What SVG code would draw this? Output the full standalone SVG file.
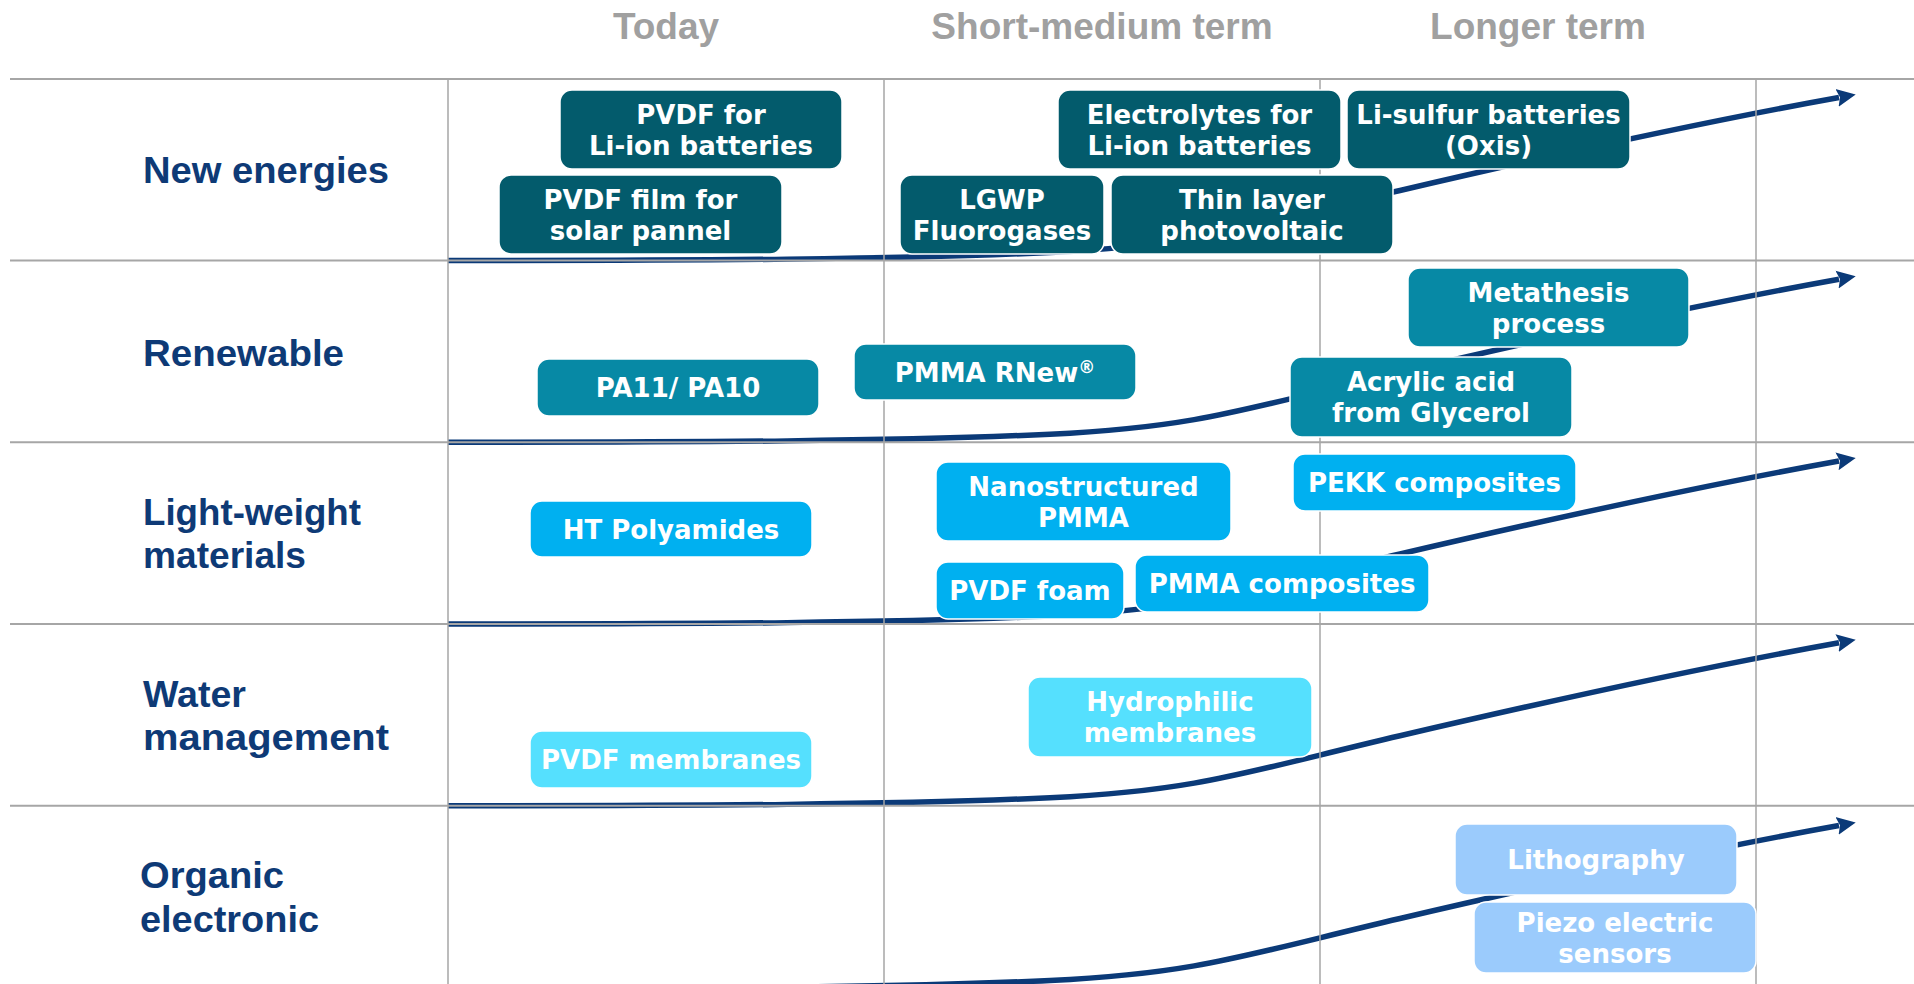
<svg xmlns="http://www.w3.org/2000/svg" width="1914" height="984" viewBox="0 0 1914 984">
<style>
.hdr{font-family:"Liberation Sans",Arial,sans-serif;font-weight:bold;font-size:37px;fill:#A0A0A0;text-anchor:middle}
.lbl{font-family:"Liberation Sans",Arial,sans-serif;font-weight:bold;font-size:37px;fill:#0E3A76}
.grid{stroke:#A6A6A6;fill:none}
.curve{fill:none;stroke:#0B3A78;stroke-width:5.5;marker-end:url(#ah)}
.box{stroke:#FFFFFF;stroke-width:1.5}
.t{font-family:"DejaVu Sans",Verdana,sans-serif;font-weight:bold;font-size:26px;fill:#FFFFFF;text-anchor:middle}
.c1{fill:#035B6C}
.c2{fill:#0789A5}
.c3{fill:#00B0F0}
.c4{fill:#55E0FE}
.c5{fill:#9BCBFC}
</style>
<defs>
<marker id="ah" markerUnits="userSpaceOnUse" viewBox="0 0 20 20" refX="2" refY="10" markerWidth="20" markerHeight="20" orient="auto">
<path d="M0,1 L19,10 L0,19 L3,10 z" fill="#0B3A78"/>
</marker>
<path id="sc" d="M448,0 C700,0 900,-1 1050,-8 C1200,-15 1250,-35 1400,-70 C1550,-105 1700,-138 1839,-163"/>
</defs>
<rect x="0" y="0" width="1914" height="984" fill="#FFFFFF"/>

<g id="headers">
<text class="hdr" x="666" y="38.5">Today</text>
<text class="hdr" x="1102" y="38.5">Short-medium term</text>
<text class="hdr" x="1538" y="38.5">Longer term</text>
</g>

<g id="row-labels">
<text class="lbl" x="143" y="183" textLength="246" lengthAdjust="spacingAndGlyphs">New energies</text>
<text class="lbl" x="143" y="366" textLength="201" lengthAdjust="spacingAndGlyphs">Renewable</text>
<text class="lbl" x="143" y="525" textLength="218" lengthAdjust="spacingAndGlyphs">Light-weight</text>
<text class="lbl" x="143" y="568" textLength="163" lengthAdjust="spacingAndGlyphs">materials</text>
<text class="lbl" x="143" y="707" textLength="103" lengthAdjust="spacingAndGlyphs">Water</text>
<text class="lbl" x="143" y="750" textLength="246" lengthAdjust="spacingAndGlyphs">management</text>
<text class="lbl" x="140" y="888" textLength="144" lengthAdjust="spacingAndGlyphs">Organic</text>
<text class="lbl" x="140" y="932" textLength="179" lengthAdjust="spacingAndGlyphs">electronic</text>
</g>

<g id="connectors">
<use href="#sc" class="curve" transform="translate(0,260.5)"/>
<use href="#sc" class="curve" transform="translate(0,442.25)"/>
<use href="#sc" class="curve" transform="translate(0,624)"/>
<use href="#sc" class="curve" transform="translate(0,805.75)"/>
<use href="#sc" class="curve" transform="translate(0,988.5)"/>
</g>

<g id="grid">
<line class="grid" stroke-width="2" x1="10" y1="79" x2="1914" y2="79"/>
<line class="grid" stroke-width="2" x1="10" y1="260.5" x2="1914" y2="260.5"/>
<line class="grid" stroke-width="2" x1="10" y1="442.25" x2="1914" y2="442.25"/>
<line class="grid" stroke-width="2" x1="10" y1="624" x2="1914" y2="624"/>
<line class="grid" stroke-width="2" x1="10" y1="805.75" x2="1914" y2="805.75"/>
<line class="grid" stroke-width="1.5" x1="448" y1="79" x2="448" y2="984"/>
<line class="grid" stroke-width="1.5" x1="884" y1="79" x2="884" y2="984"/>
<line class="grid" stroke-width="1.5" x1="1320" y1="79" x2="1320" y2="984"/>
<line class="grid" stroke-width="1.5" x1="1756" y1="79" x2="1756" y2="984"/>
</g>

<g id="n-pvdf-liion">
<rect class="box c1" x="560" y="90" width="282" height="79" rx="12"/>
<text class="t" x="701" y="123.5">PVDF for</text>
<text class="t" x="701" y="154.5">Li-ion batteries</text>
</g>
<g id="n-pvdf-film">
<rect class="box c1" x="499" y="175" width="283" height="79" rx="12"/>
<text class="t" x="640.5" y="208.5">PVDF film for</text>
<text class="t" x="640.5" y="239.5">solar pannel</text>
</g>
<g id="n-lgwp">
<rect class="box c1" x="900" y="175" width="204" height="79" rx="12"/>
<text class="t" x="1002" y="208.5">LGWP</text>
<text class="t" x="1002" y="239.5">Fluorogases</text>
</g>
<g id="n-thin-layer">
<rect class="box c1" x="1111" y="175" width="282" height="79" rx="12"/>
<text class="t" x="1252" y="208.5">Thin layer</text>
<text class="t" x="1252" y="239.5">photovoltaic</text>
</g>
<g id="n-electrolytes">
<rect class="box c1" x="1058" y="90" width="283" height="79" rx="12"/>
<text class="t" x="1199.5" y="123.5">Electrolytes for</text>
<text class="t" x="1199.5" y="154.5">Li-ion batteries</text>
</g>
<g id="n-li-sulfur">
<rect class="box c1" x="1347" y="90" width="283" height="79" rx="12"/>
<text class="t" x="1488.5" y="123.5">Li-sulfur batteries</text>
<text class="t" x="1488.5" y="154.5">(Oxis)</text>
</g>

<g id="n-metathesis">
<rect class="box c2" x="1408" y="268" width="281" height="79" rx="12"/>
<text class="t" x="1548.5" y="301.5">Metathesis</text>
<text class="t" x="1548.5" y="332.5">process</text>
</g>
<g id="n-pmma-rnew">
<rect class="box c2" x="854" y="344" width="282" height="56" rx="12"/>
<text class="t" x="995" y="382">PMMA RNew<tspan font-size="17" dy="-9">®</tspan></text>
</g>
<g id="n-pa11">
<rect class="box c2" x="537" y="359" width="282" height="57" rx="12"/>
<text class="t" x="678" y="397">PA11/ PA10</text>
</g>
<g id="n-acrylic">
<rect class="box c2" x="1290" y="357" width="282" height="80" rx="12"/>
<text class="t" x="1431" y="391">Acrylic acid</text>
<text class="t" x="1431" y="422">from Glycerol</text>
</g>

<g id="n-ht-polyamides">
<rect class="box c3" x="530" y="501" width="282" height="56" rx="12"/>
<text class="t" x="671" y="538.5">HT Polyamides</text>
</g>
<g id="n-nano-pmma">
<rect class="box c3" x="936" y="462" width="295" height="79" rx="12"/>
<text class="t" x="1083.5" y="495.5">Nanostructured</text>
<text class="t" x="1083.5" y="526.5">PMMA</text>
</g>
<g id="n-pekk">
<rect class="box c3" x="1293" y="454" width="283" height="57" rx="12"/>
<text class="t" x="1434.5" y="492">PEKK composites</text>
</g>
<g id="n-pvdf-foam">
<rect class="box c3" x="936" y="562" width="188" height="57" rx="12"/>
<text class="t" x="1030" y="600">PVDF foam</text>
</g>
<g id="n-pmma-comp">
<rect class="box c3" x="1135" y="555" width="294" height="57" rx="12"/>
<text class="t" x="1282" y="593">PMMA composites</text>
</g>

<g id="n-pvdf-membranes">
<rect class="box c4" x="530" y="731" width="282" height="57" rx="12"/>
<text class="t" x="671" y="769">PVDF membranes</text>
</g>
<g id="n-hydrophilic">
<rect class="box c4" x="1028" y="677" width="284" height="80" rx="12"/>
<text class="t" x="1170" y="711">Hydrophilic</text>
<text class="t" x="1170" y="742">membranes</text>
</g>

<g id="n-lithography">
<rect class="box c5" x="1455" y="824" width="282" height="71" rx="12"/>
<text class="t" x="1596" y="869">Lithography</text>
</g>
<g id="n-piezo">
<rect class="box c5" x="1474" y="902" width="282" height="71" rx="12"/>
<text class="t" x="1615" y="931.5">Piezo electric</text>
<text class="t" x="1615" y="962.5">sensors</text>
</g>
</svg>
